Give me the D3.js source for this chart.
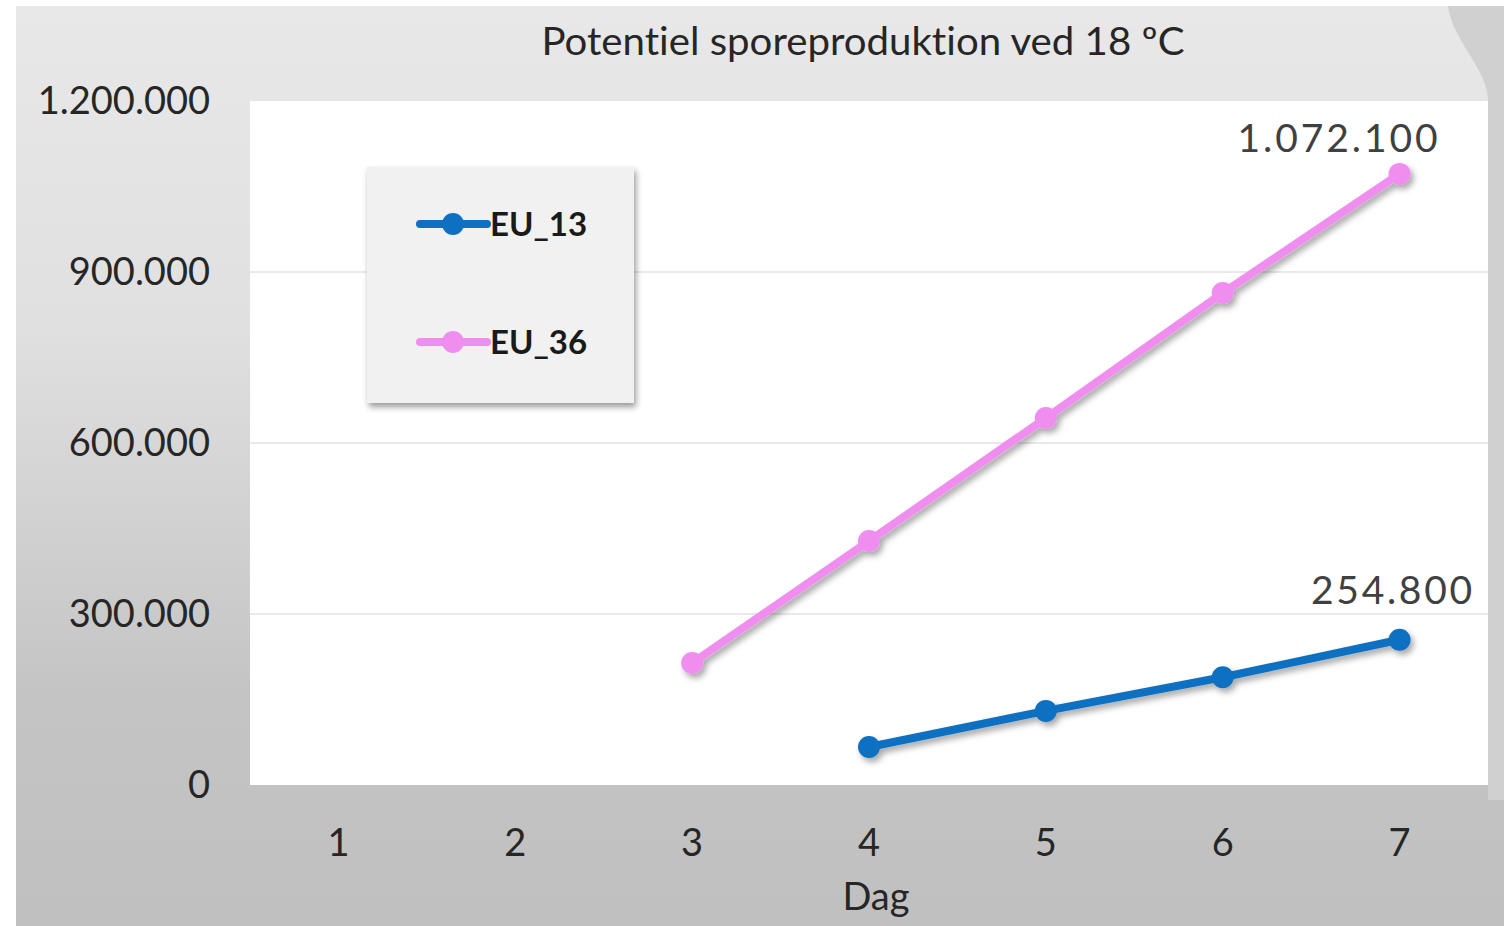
<!DOCTYPE html>
<html>
<head>
<meta charset="utf-8">
<script src="https://cdn.jsdelivr.net/npm/d3@7"></script>
<style>
  body { margin: 0; background: #fff; }
  text { font-family: Lato, "Open Sans", sans-serif; font-variant-ligatures: none; }
</style>
</head>
<body>
<script>
var days = [1, 2, 3, 4, 5, 6, 7];
var eu13 = [null, null, null, 66700, 130000, 189000, 254800];
var eu36 = [null, null, 214000, 428000, 644000, 863000, 1072100];
var yTicks = [0, 300000, 600000, 900000, 1200000];
var seriesNames = ["EU_13", "EU_36"];

var W = 1504, H = 926;
var plotLeft = 250, plotRight = 1488, plotTop = 101, plotBottom = 785;

var svg = d3.select("body").append("svg")
    .attr("width", W)
    .attr("height", H);

var defs = svg.append("defs");
var grad = defs.append("linearGradient")
    .attr("id", "bg").attr("x1", 0).attr("y1", 0).attr("x2", 0).attr("y2", 1);
grad.append("stop").attr("offset", "0%").attr("stop-color", "#e8e8e8");
grad.append("stop").attr("offset", "35%").attr("stop-color", "#e0e0e0");
grad.append("stop").attr("offset", "75%").attr("stop-color", "#c4c4c4");
grad.append("stop").attr("offset", "100%").attr("stop-color", "#c0c0c0");

var shadow = defs.append("filter").attr("id", "shadow")
    .attr("x", "-20%").attr("y", "-20%").attr("width", "140%").attr("height", "140%");
shadow.append("feDropShadow")
    .attr("dx", 3).attr("dy", 4).attr("stdDeviation", 3)
    .attr("flood-color", "#000").attr("flood-opacity", 0.35);

var boxShadow = defs.append("filter").attr("id", "boxshadow")
    .attr("x", "-10%").attr("y", "-10%").attr("width", "125%").attr("height", "125%");
boxShadow.append("feDropShadow")
    .attr("dx", 2).attr("dy", 4).attr("stdDeviation", 3)
    .attr("flood-color", "#000").attr("flood-opacity", 0.4);

// background
svg.append("rect")
    .attr("x", 16).attr("y", 6)
    .attr("width", W - 16).attr("height", H - 6)
    .attr("fill", "url(#bg)");

// darker strip and curve at the right edge
svg.append("path")
    .attr("d", "M1448,6 C1452,40 1488,70 1488,100 L1488,800 L1504,800 L1504,6 Z")
    .attr("fill", "#d0d0d0");

// plot area
svg.append("rect")
    .attr("x", plotLeft).attr("y", plotTop)
    .attr("width", plotRight - plotLeft).attr("height", plotBottom - plotTop)
    .attr("fill", "#ffffff");

var x = d3.scaleBand()
    .domain(days)
    .range([plotLeft, plotRight]);

var y = d3.scaleLinear()
    .domain([0, 1200000])
    .range([plotBottom, plotTop]);

function fmt(v) {
    return d3.format(",")(v).replace(/,/g, ".");
}

function cx(d) { return x(d) + x.bandwidth() / 2; }

// gridlines
svg.append("g")
    .selectAll("line")
    .data(yTicks.filter(function(d){ return d > 0 && d < 1200000; }))
    .enter().append("line")
    .attr("x1", plotLeft).attr("x2", plotRight)
    .attr("y1", function(d){ return y(d); })
    .attr("y2", function(d){ return y(d); })
    .attr("stroke", "#e2e2e2")
    .attr("stroke-width", 1.5);

// y axis labels
svg.append("g")
    .selectAll("text")
    .data(yTicks)
    .enter().append("text")
    .attr("x", 210)
    .attr("y", function(d){ return y(d) + 13; })
    .attr("text-anchor", "end")
    .attr("font-size", 38)
    .attr("fill", "#262626")
    .text(fmt);

// x axis labels
svg.append("g")
    .selectAll("text")
    .data(days)
    .enter().append("text")
    .attr("x", cx)
    .attr("y", 856)
    .attr("text-anchor", "middle")
    .attr("font-size", 38)
    .attr("fill", "#262626")
    .text(function(d){ return d; });

svg.append("text")
    .attr("x", 876).attr("y", 910)
    .attr("text-anchor", "middle")
    .attr("font-size", 38)
    .attr("fill", "#262626")
    .text("Dag");

// title
svg.append("text")
    .attr("x", 863).attr("y", 55)
    .attr("text-anchor", "middle")
    .attr("font-size", 38)
    .attr("textLength", 643)
    .attr("lengthAdjust", "spacingAndGlyphs")
    .attr("fill", "#262626")
    .text("Potentiel sporeproduktion ved 18 ºC");

var colors = ["#0f6fc0", "#f08ef0"];
var allSeries = [eu13, eu36];

var line = d3.line()
    .defined(function(d){ return d.v != null; })
    .x(function(d){ return cx(d.day); })
    .y(function(d){ return y(d.v); });

allSeries.forEach(function(vals, i) {
    var pts = days.map(function(d, j){ return {day: d, v: vals[j]}; });
    var g = svg.append("g").attr("filter", "url(#shadow)");
    g.append("path")
        .datum(pts)
        .attr("d", line)
        .attr("fill", "none")
        .attr("stroke", colors[i])
        .attr("stroke-width", 8)
        .attr("stroke-linejoin", "round");
    g.selectAll("circle")
        .data(pts.filter(function(p){ return p.v != null; }))
        .enter().append("circle")
        .attr("cx", function(p){ return cx(p.day); })
        .attr("cy", function(p){ return y(p.v); })
        .attr("r", 11)
        .attr("fill", colors[i]);
});

// data labels on last point
svg.append("text")
    .attr("x", cx(7) - 62)
    .attr("y", y(eu36[6]) - 22)
    .attr("text-anchor", "middle")
    .attr("font-size", 39)
    .attr("textLength", 200)
    .attr("lengthAdjust", "spacing")
    .attr("fill", "#404040")
    .text(fmt(eu36[6]));

svg.append("text")
    .attr("x", cx(7) - 8)
    .attr("y", y(eu13[6]) - 36)
    .attr("text-anchor", "middle")
    .attr("font-size", 39)
    .attr("textLength", 161)
    .attr("lengthAdjust", "spacing")
    .attr("fill", "#404040")
    .text(fmt(eu13[6]));

// legend
var lg = svg.append("g");
lg.append("rect")
    .attr("x", 367).attr("y", 167)
    .attr("width", 267).attr("height", 236)
    .attr("fill", "#f1f1f1")
    .attr("filter", "url(#boxshadow)");

seriesNames.forEach(function(name, i) {
    var ly = 224 + i * 118;
    lg.append("line")
        .attr("x1", 420).attr("x2", 487)
        .attr("y1", ly).attr("y2", ly)
        .attr("stroke", colors[i])
        .attr("stroke-width", 8)
        .attr("stroke-linecap", "round");
    lg.append("circle")
        .attr("cx", 453).attr("cy", ly).attr("r", 11)
        .attr("fill", colors[i]);
    lg.append("text")
        .attr("x", 490).attr("y", ly + 12)
        .attr("font-size", 33)
        .attr("font-weight", "bold")
        .attr("fill", "#1a1a1a")
        .text(name);
});
</script>
</body>
</html>
